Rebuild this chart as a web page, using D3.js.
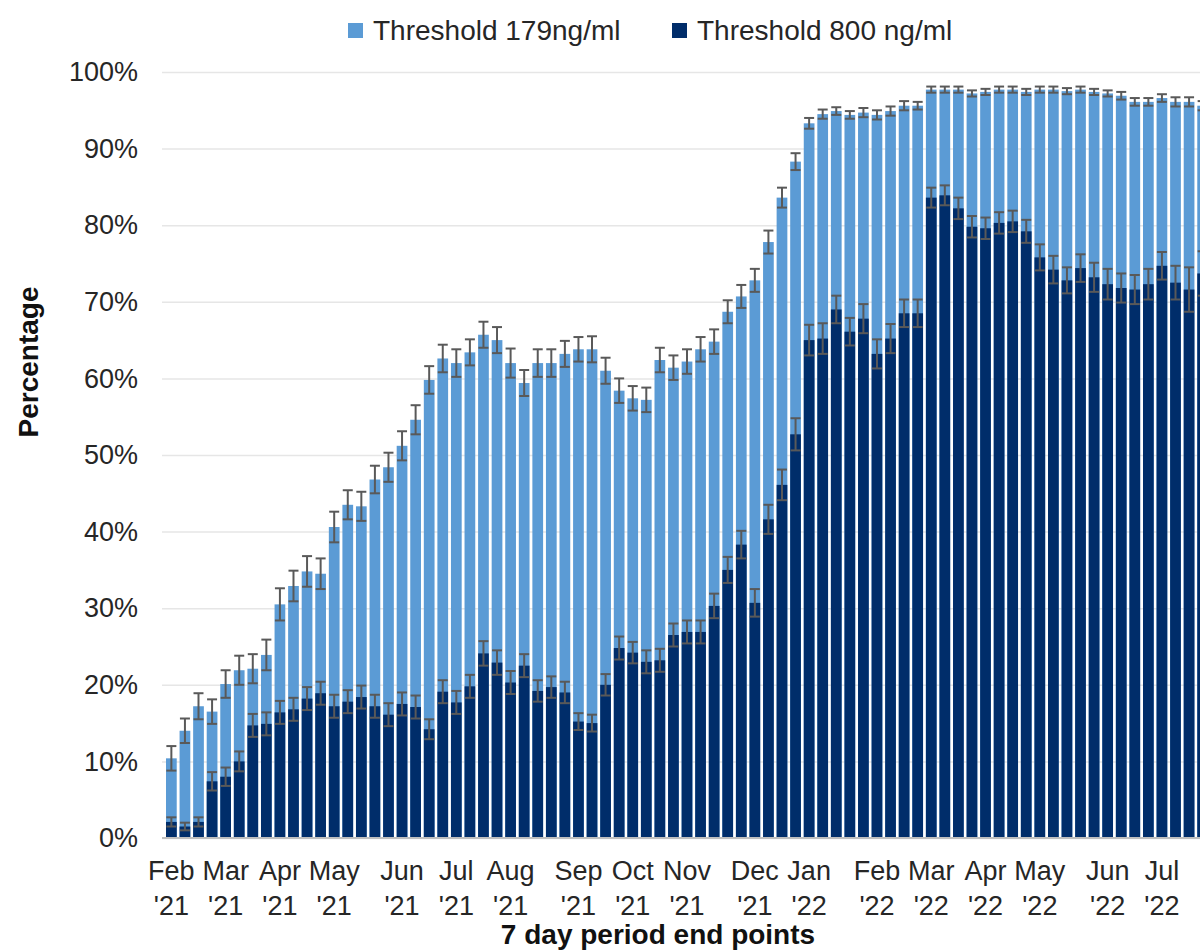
<!DOCTYPE html>
<html>
<head>
<meta charset="utf-8">
<script src="https://cdn.jsdelivr.net/npm/d3@7"></script>
<style>
  body { margin: 0; background: #fff; }
  svg { display: block; font-family: "Liberation Sans", Arial, sans-serif; }
</style>
</head>
<body>
<svg id="chart" width="1200" height="951"></svg>
<script>
// series values (%), one per 7 day period
var low179 = [10.4, 14.0, 17.2, 16.5, 20.1, 21.9, 22.1, 23.9, 30.5, 32.9,
              34.8, 34.5, 40.6, 43.5, 43.3, 46.8, 48.4, 51.2, 54.6, 59.8,
              62.6, 62.0, 63.4, 65.7, 65.0, 62.0, 59.4, 62.0, 62.0, 63.2,
              63.8, 63.8, 61.0, 58.4, 57.4, 57.2, 62.4, 61.4, 62.2, 63.8,
              64.8, 68.7, 70.7, 72.8, 77.8, 83.6, 88.3, 93.3, 94.5, 94.9,
              94.4, 94.7, 94.4, 94.9, 95.6, 95.6, 97.7, 97.7, 97.7, 97.2,
              97.4, 97.7, 97.7, 97.4, 97.7, 97.7, 97.5, 97.7, 97.4, 97.2,
              96.9, 96.1, 96.1, 96.6, 96.1, 96.1, 95.6];
var low179Err = [1.6, 1.6, 1.7, 1.6, 1.8, 1.9, 1.9, 2.0, 2.1, 2.0,
                 2.0, 2.0, 2.0, 1.9, 1.9, 1.8, 1.9, 1.9, 1.9, 1.8,
                 1.8, 1.8, 1.7, 1.7, 1.7, 1.9, 1.7, 1.8, 1.8, 1.7,
                 1.6, 1.7, 1.7, 1.6, 1.6, 1.6, 1.6, 1.6, 1.6, 1.6,
                 1.6, 1.5, 1.5, 1.5, 1.5, 1.3, 1.1, 0.7, 0.6, 0.5,
                 0.5, 0.6, 0.6, 0.6, 0.6, 0.5, 0.4, 0.4, 0.4, 0.4,
                 0.4, 0.4, 0.4, 0.4, 0.4, 0.4, 0.4, 0.4, 0.4, 0.4,
                 0.5, 0.5, 0.5, 0.5, 0.6, 0.6, 0.6];
var high800 = [2.1, 1.5, 2.1, 7.4, 8.0, 10.0, 14.7, 14.9, 16.4, 16.8,
               18.2, 18.9, 17.2, 17.8, 18.4, 17.2, 16.1, 17.5, 17.1, 14.2,
               19.1, 17.7, 19.8, 24.1, 22.9, 20.3, 22.5, 19.2, 19.7, 19.0,
               15.2, 15.0, 20.0, 24.8, 24.2, 23.0, 23.2, 26.5, 26.9, 26.9,
               30.3, 35.0, 38.3, 30.7, 41.6, 46.1, 52.7, 65.0, 65.2, 69.0,
               66.1, 67.8, 63.2, 65.2, 68.5, 68.5, 83.6, 83.9, 82.2, 79.8,
               79.6, 80.3, 80.5, 79.2, 75.8, 74.2, 72.8, 74.4, 73.2, 72.3,
               71.8, 71.6, 72.3, 74.7, 72.5, 71.6, 73.7];
var high800Err = [0.6, 0.5, 0.6, 1.2, 1.2, 1.3, 1.5, 1.5, 1.5, 1.5,
                  1.5, 1.5, 1.5, 1.5, 1.5, 1.5, 1.5, 1.5, 1.5, 1.3,
                  1.5, 1.5, 1.5, 1.6, 1.6, 1.5, 1.5, 1.4, 1.4, 1.4,
                  1.1, 1.1, 1.4, 1.5, 1.4, 1.5, 1.5, 1.5, 1.5, 1.5,
                  1.6, 1.7, 1.8, 1.8, 1.9, 2.0, 2.1, 2.0, 2.0, 1.8,
                  1.8, 1.9, 1.9, 1.9, 1.8, 1.8, 1.3, 1.3, 1.4, 1.4,
                  1.4, 1.4, 1.4, 1.5, 1.7, 1.8, 1.7, 1.8, 1.9, 2.0,
                  1.9, 1.9, 2.0, 1.8, 2.2, 2.9, 2.9];

// x tick labels (first period of each month)
var tickIdx = [0, 4, 8, 12, 17, 21, 25, 30, 34, 38, 43, 47, 52, 56, 60, 64, 69, 73];
var tickLabels = ["Feb '21", "Mar '21", "Apr '21", "May '21", "Jun '21", "Jul '21",
                  "Aug '21", "Sep '21", "Oct '21", "Nov '21", "Dec '21", "Jan '22",
                  "Feb '22", "Mar '22", "Apr '22", "May '22", "Jun '22", "Jul '22"];
var seriesNames = ["Threshold 179ng/ml", "Threshold 800 ng/ml"];
var seriesColors = ["#5b9bd5", "#002d6a"];

var periods = low179.map(function(d, i) { return i; });

var svg = d3.select("#chart");
var plotLeft = 162, plotTop = 72, plotBottom = 838, plotRight = 1212;

var x = d3.scaleBand()
    .domain(periods)
    .range([plotLeft, plotRight])
    .paddingInner(0.21)
    .paddingOuter(0.295);
var y = d3.scaleLinear()
    .domain([0, 100])
    .range([plotBottom, plotTop]);

// gridlines
svg.append("g")
    .attr("transform", "translate(" + plotLeft + ",0)")
    .call(d3.axisLeft(y).ticks(10).tickSize(-(1200 - plotLeft)).tickFormat(""))
    .call(function(g) {
      g.select(".domain").remove();
      g.selectAll("line").attr("stroke", "#e6e6e6").attr("stroke-width", 1.5);
    });

// y labels
svg.append("g")
    .attr("transform", "translate(138,0)")
    .call(d3.axisLeft(y).ticks(10).tickSize(0).tickPadding(0)
          .tickFormat(function(d) { return d + "%"; }))
    .call(function(g) {
      g.select(".domain").remove();
      g.selectAll("text")
        .attr("font-size", 27)
        .attr("font-family", "Liberation Sans, Arial, sans-serif")
        .attr("fill", "#262626");
    });

function drawSeries(vals, errs, color) {
  svg.append("g").selectAll("rect")
      .data(vals)
    .enter().append("rect")
      .attr("x", function(d, i) { return x(i); })
      .attr("width", x.bandwidth())
      .attr("y", function(d) { return y(d); })
      .attr("height", function(d) { return plotBottom - y(d); })
      .attr("fill", color);

  var eb = svg.append("g")
      .attr("stroke", "#595959")
      .attr("stroke-width", 2)
      .selectAll("g")
      .data(vals)
    .enter().append("g");
  var cx = function(d, i) { return x(i) + x.bandwidth() / 2; };
  eb.append("line")
      .attr("x1", cx).attr("x2", cx)
      .attr("y1", function(d, i) { return y(d - errs[i]); })
      .attr("y2", function(d, i) { return y(d + errs[i]); });
  eb.append("line")
      .attr("x1", function(d, i) { return cx(d, i) - 5; })
      .attr("x2", function(d, i) { return cx(d, i) + 5; })
      .attr("y1", function(d, i) { return y(d + errs[i]); })
      .attr("y2", function(d, i) { return y(d + errs[i]); });
  eb.append("line")
      .attr("x1", function(d, i) { return cx(d, i) - 5; })
      .attr("x2", function(d, i) { return cx(d, i) + 5; })
      .attr("y1", function(d, i) { return y(d - errs[i]); })
      .attr("y2", function(d, i) { return y(d - errs[i]); });
}

drawSeries(low179, low179Err, seriesColors[0]);
drawSeries(high800, high800Err, seriesColors[1]);

// baseline
svg.append("line")
    .attr("x1", plotLeft).attr("x2", 1200)
    .attr("y1", y(0)).attr("y2", y(0))
    .attr("stroke", "#bfbfbf").attr("stroke-width", 2);

// x axis, two line labels
var xAxis = svg.append("g")
    .attr("transform", "translate(0," + plotBottom + ")")
    .call(d3.axisBottom(x).tickValues(tickIdx).tickSize(0).tickFormat(""));
xAxis.select(".domain").remove();
xAxis.selectAll(".tick text").remove();
xAxis.selectAll(".tick").each(function(d) {
  var parts = tickLabels[tickIdx.indexOf(d)].split(" ");
  var t = d3.select(this).append("text")
      .attr("text-anchor", "middle")
      .attr("font-size", 27)
      .attr("fill", "#262626");
  t.append("tspan").attr("x", 0).attr("y", 42).text(parts[0]);
  t.append("tspan").attr("x", 0).attr("y", 77).text(parts[1]);
});

// axis titles
svg.append("text")
    .attr("x", 658).attr("y", 944)
    .attr("text-anchor", "middle")
    .attr("font-size", 28).attr("font-weight", "bold")
    .attr("fill", "#111")
    .text("7 day period end points");
svg.append("text")
    .attr("transform", "translate(38,362) rotate(-90)")
    .attr("text-anchor", "middle")
    .attr("font-size", 28).attr("font-weight", "bold")
    .attr("fill", "#111")
    .text("Percentage");

// legend
var legendX = [348, 672];
var legend = svg.append("g").selectAll("g")
    .data(seriesNames)
  .enter().append("g")
    .attr("transform", function(d, i) { return "translate(" + legendX[i] + ",23)"; });
legend.append("rect")
    .attr("width", 15).attr("height", 15)
    .attr("fill", function(d, i) { return seriesColors[i]; });
legend.append("text")
    .attr("x", 25).attr("y", 17)
    .attr("font-size", 28)
    .attr("fill", "#262626")
    .text(function(d) { return d; });
</script>
</body>
</html>
